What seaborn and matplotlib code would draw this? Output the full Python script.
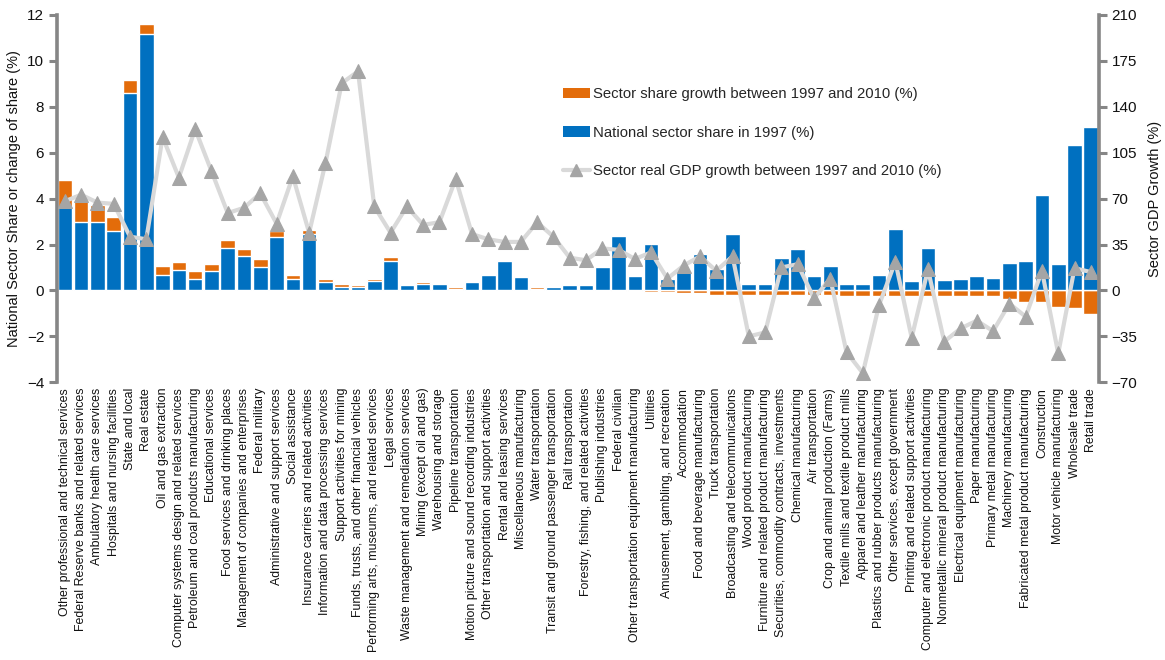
import matplotlib
matplotlib.use("Agg")
import matplotlib.pyplot as plt
import seaborn as sns
import numpy as np
import pandas as pd
from matplotlib.patches import Patch
from matplotlib.lines import Line2D
from matplotlib import font_manager

categories = [
    "Other professional and technical services",
    "Federal Reserve banks and related services",
    "Ambulatory health care services",
    "Hospitals and nursing facilities",
    "State and local",
    "Real estate",
    "Oil and gas extraction",
    "Computer systems design and related services",
    "Petroleum and coal products manufacturing",
    "Educational services",
    "Food services and drinking places",
    "Management of companies and enterprises",
    "Federal military",
    "Administrative and support services",
    "Social assistance",
    "Insurance carriers and related activities",
    "Information and data processing services",
    "Support activities for mining",
    "Funds, trusts, and other financial vehicles",
    "Performing arts, museums, and related services",
    "Legal services",
    "Waste management and remediation services",
    "Mining (except oil and gas)",
    "Warehousing and storage",
    "Pipeline transportation",
    "Motion picture and sound recording industries",
    "Other transportation and support activities",
    "Rental and leasing services",
    "Miscellaneous manufacturing",
    "Water transportation",
    "Transit and ground passenger transportation",
    "Rail transportation",
    "Forestry, fishing, and related activities",
    "Publishing industries",
    "Federal civilian",
    "Other transportation equipment manufacturing",
    "Utilities",
    "Amusement, gambling, and recreation",
    "Accommodation",
    "Food and beverage manufacturing",
    "Truck transportation",
    "Broadcasting and telecommunications",
    "Wood product manufacturing",
    "Furniture and related product manufacturing",
    "Securities, commodity contracts, investments",
    "Chemical manufacturing",
    "Air transportation",
    "Crop and animal production (Farms)",
    "Textile mills and textile product mills",
    "Apparel and leather manufacturing",
    "Plastics and rubber products manufacturing",
    "Other services, except government",
    "Printing and related support activities",
    "Computer and electronic product manufacturing",
    "Nonmetallic mineral product manufacturing",
    "Electrical equipment manufacturing",
    "Paper manufacturing",
    "Primary metal manufacturing",
    "Machinery manufacturing",
    "Fabricated metal product manufacturing",
    "Construction",
    "Motor vehicle manufacturing",
    "Wholesale trade",
    "Retail trade",
]

share_1997 = [
    3.63, 3.00, 3.00, 2.61, 8.61, 11.15, 0.68, 0.91, 0.52, 0.83,
    1.83, 1.48, 1.04, 2.32, 0.48, 2.48, 0.35, 0.17, 0.13, 0.42,
    1.29, 0.25, 0.30, 0.29, 0.07, 0.38, 0.67, 1.29, 0.58, 0.07,
    0.16, 0.25, 0.25, 1.00, 2.38, 0.64, 2.03, 0.52, 0.82, 1.60,
    0.95, 2.47, 0.29, 0.29, 1.43, 1.81, 0.64, 1.07, 0.29, 0.29,
    0.68, 2.69, 0.42, 1.86, 0.46, 0.51, 0.64, 0.55, 1.20, 1.29,
    4.17, 1.16, 6.34, 7.13,
]

share_growth = [
    1.19, 0.88, 0.73, 0.60, 0.56, 0.46, 0.39, 0.34, 0.34, 0.33,
    0.35, 0.33, 0.35, 0.29, 0.20, 0.16, 0.16, 0.12, 0.12, 0.09,
    0.15, 0.04, 0.05, 0.01, 0.06, 0.01, 0.06, 0.01, 0.04, 0.06,
    0.05, 0.01, 0.01, 0.01, -0.03, -0.04, -0.07, -0.08, -0.09, -0.09,
    -0.19, -0.19, -0.20, -0.20, -0.20, -0.21, -0.22, -0.22, -0.23, -0.23,
    -0.23, -0.23, -0.23, -0.23, -0.23, -0.23, -0.23, -0.23, -0.38, -0.52,
    -0.52, -0.70, -0.78, -1.04,
]

gdp_growth = [
    68, 73, 67, 66, 41, 39, 117, 86, 123, 91,
    59, 63, 74, 51, 87, 44, 97, 158, 167, 64,
    44, 64, 50, 52, 85, 43, 39, 37, 37, 52,
    41, 25, 23, 32, 31, 24, 29, 9, 19, 26,
    15, 26, -35, -32, 17.5, 20, -6, 9, -47, -63,
    -11, 22, -36, 16, -39, -29, -23, -31, -10, -20,
    15, -48, 17, 14,
]

legend_labels = [
    "Sector share growth between 1997 and 2010 (%)",
    "National sector share in 1997 (%)",
    "Sector real GDP growth between 1997 and 2010 (%)",
]

BLUE = "#0070C0"
ORANGE = "#E36C0A"
LINE = "#D9D9D9"
MARK = "#A5A5A5"
AXC = "#868686"

sns.set_style("white")
plt.rcParams["font.family"] = ["Liberation Sans", "DejaVu Sans"]

installed = {f.name for f in font_manager.fontManager.ttflist}
if "Liberation Sans Narrow" in installed:
    xfam, xsize = ["Liberation Sans Narrow", "DejaVu Sans"], 10.4
else:
    xfam, xsize = ["Liberation Sans", "DejaVu Sans"], 8.9

df = pd.DataFrame({"sector": categories, "share": share_1997,
                   "growth": share_growth, "gdp": gdp_growth})
# orange segment: stacked on top when positive, below zero when negative
df["orange"] = np.where(df["growth"] > 0, df["share"] + df["growth"], df["growth"])
df["pos"] = np.arange(len(df))

fig = plt.figure(figsize=(11.65, 6.6), dpi=100)
ax = fig.add_axes([0.0487, 0.4208, 0.8946, 0.5565])

sns.barplot(data=df, x="sector", y="orange", order=categories, color=ORANGE,
            saturation=1, width=0.9, errorbar=None, ax=ax)
sns.barplot(data=df, x="sector", y="share", order=categories, color=BLUE,
            saturation=1, width=0.9, errorbar=None, ax=ax)

ax.set_xlim(-0.5, len(categories) - 0.5)
ax.set_ylim(-4, 12)
ax.set_yticks(np.arange(-4, 13, 2))
ax.set_xlabel("")
ax.set_ylabel("National Sector Share or change of share (%)", fontsize=10.5,
              color="#111111", labelpad=4)
ax.set_xticks(range(len(categories)))
ax.set_xticklabels(categories, rotation=90, fontsize=xsize, family=xfam,
                   color="#111111")
ax.tick_params(axis="x", length=0, pad=4)
ax.tick_params(axis="y", direction="out", length=6, width=2.2, color=AXC,
               labelsize=11, labelcolor="#111111", pad=3, left=True)
for s in ["top", "bottom", "right"]:
    ax.spines[s].set_visible(False)
ax.spines["left"].set_color(AXC)
ax.spines["left"].set_linewidth(2.6)

ax2 = ax.twinx()
sns.lineplot(data=df, x="pos", y="gdp", ax=ax2, color=LINE, linewidth=3,
             marker="^", markersize=10, markerfacecolor=MARK,
             markeredgecolor=MARK, legend=False)
ax2.set_xlim(-0.5, len(categories) - 0.5)
ax2.set_ylim(-70, 210)
ax2.set_yticks(np.arange(-70, 211, 35))
ax2.set_xlabel("")
ax2.set_ylabel("Sector GDP Growth (%)", fontsize=10.5, color="#111111", labelpad=8)
ax2.tick_params(axis="y", direction="out", length=6, width=2.2, color=AXC,
                labelsize=11, labelcolor="#111111", pad=3, right=True)
ax2.tick_params(axis="x", length=0)
for s in ["top", "bottom", "left"]:
    ax2.spines[s].set_visible(False)
ax2.spines["right"].set_color(AXC)
ax2.spines["right"].set_linewidth(2.6)

handles = [
    Patch(facecolor=ORANGE, edgecolor="none"),
    Patch(facecolor=BLUE, edgecolor="none"),
    Line2D([0], [0], color=LINE, linewidth=3, marker="^", markersize=8,
           markerfacecolor=MARK, markeredgecolor=MARK),
]
ax2.legend(handles, legend_labels, loc="upper left", bbox_to_anchor=(0.48, 0.82),
           frameon=False, fontsize=10.7, labelspacing=1.65, handlelength=1.8,
           handletextpad=0.25, borderaxespad=0)

fig.savefig("out.png", dpi=100)
